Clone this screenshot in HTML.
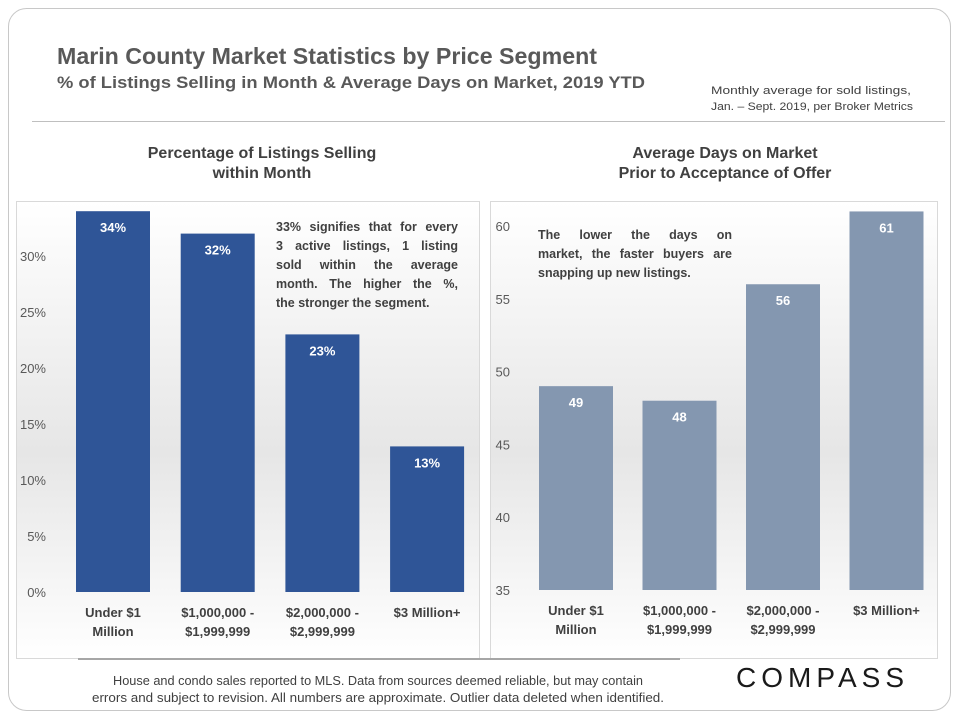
<!DOCTYPE html>
<html><head><meta charset="utf-8"><style>
body{margin:0;background:#fff;width:960px;height:720px;overflow:hidden;font-family:"Liberation Sans",sans-serif;position:relative}
.ann{position:absolute;font-size:12.5px;font-weight:bold;color:#404040;line-height:19px;text-align:justify;text-align-last:left}
.ann span{display:block;text-align:justify;text-align-last:justify}
.ann span.last{text-align-last:left}
</style></head><body>
<svg width="960" height="720" xmlns="http://www.w3.org/2000/svg" font-family="Liberation Sans, sans-serif" style="position:absolute;left:0;top:0">
<defs>
<linearGradient id="bg" x1="0" y1="0" x2="0" y2="1"><stop offset="0" stop-color="#fff"/><stop offset="0.55" stop-color="#e6e6e6"/><stop offset="1" stop-color="#fff"/></linearGradient>
</defs>
<rect x="8.5" y="8.5" width="942" height="702" rx="18" fill="#fff" stroke="#c8c8c8"/>
<text x="57" y="64" font-size="23" font-weight="bold" fill="#595959" textLength="540" lengthAdjust="spacingAndGlyphs">Marin County Market Statistics by Price Segment</text>
<text x="57" y="88" font-size="17" font-weight="bold" fill="#595959" textLength="588" lengthAdjust="spacingAndGlyphs">% of Listings Selling in Month &amp; Average Days on Market, 2019 YTD</text>
<text x="711" y="94" font-size="11" fill="#404040" textLength="200" lengthAdjust="spacingAndGlyphs">Monthly average for sold listings,</text>
<text x="711" y="110" font-size="11" fill="#404040" textLength="202" lengthAdjust="spacingAndGlyphs">Jan. – Sept. 2019, per Broker Metrics</text>
<line x1="32" y1="121.5" x2="945" y2="121.5" stroke="#bfbfbf"/>
<text x="262" y="158" font-size="16" font-weight="bold" fill="#404040" text-anchor="middle">Percentage of Listings Selling</text>
<text x="262" y="178" font-size="16" font-weight="bold" fill="#404040" text-anchor="middle">within Month</text>
<text x="725" y="158" font-size="16" font-weight="bold" fill="#404040" text-anchor="middle">Average Days on Market</text>
<text x="725" y="178" font-size="16" font-weight="bold" fill="#404040" text-anchor="middle">Prior to Acceptance of Offer</text>
<rect x="16.5" y="201.5" width="463" height="457" fill="url(#bg)" stroke="#d9d9d9"/>
<rect x="490.5" y="201.5" width="447" height="457" fill="url(#bg)" stroke="#d9d9d9"/>
<g id="left"></g>
<g id="right"></g>
<line x1="78" y1="659" x2="680" y2="659" stroke="#a6a6a6" stroke-width="2"/>
<text x="378" y="685" font-size="12.5" fill="#404040" text-anchor="middle" textLength="530" lengthAdjust="spacingAndGlyphs">House and condo sales reported to MLS. Data from sources deemed reliable, but may contain</text>
<text x="378" y="702" font-size="12.5" fill="#404040" text-anchor="middle" textLength="572" lengthAdjust="spacingAndGlyphs">errors and subject to revision. All numbers are approximate. Outlier data deleted when identified.</text>
<text x="822" y="687" font-size="28" fill="#1a1a1a" text-anchor="middle" letter-spacing="4" textLength="172">COMPASS</text>
</svg>
<div class="ann" style="left:276px;top:218px;width:182px">
<span>33% signifies that for every</span><span>3 active listings, 1 listing</span><span>sold within the average</span><span>month. The higher the %,</span><span class="last">the stronger the segment.</span></div>
<div class="ann" style="left:538px;top:226px;width:194px">
<span>The lower the days on</span><span>market, the faster buyers are</span><span class="last">snapping up new listings.</span></div>
<script>
const categories=["Under $1|Million","$1,000,000 -|$1,999,999","$2,000,000 -|$2,999,999","$3 Million+"];
const pctValues=[34,32,23,13];
const pctTicks=[0,5,10,15,20,25,30];
const domValues=[49,48,56,61];
const domTicks=[35,40,45,50,55,60];
const NS="http://www.w3.org/2000/svg";
function mk(p,t,a){const e=document.createElementNS(NS,t);for(const k in a)e.setAttribute(k,a[k]);p.appendChild(e);return e;}
function draw(g,vals,ticks,o){
 const y=v=>o.y0-(v-o.min)*o.pxPer;
 ticks.forEach(t=>{const e=mk(g,'text',{x:o.tickX,y:y(t)+5,'font-size':13,fill:'#595959','text-anchor':'end'});
  
  
  e.textContent=t+o.suffix;});
 vals.forEach((v,i)=>{const x=o.x0+i*o.step;
  const r=mk(g,'rect',{x:x,y:y(v),width:o.bw,height:o.y0-y(v),fill:o.color});
  
  
  const l=mk(g,'text',{x:x+o.bw/2,y:y(v)+21,'font-size':13,'font-weight':'bold',fill:'#fff','text-anchor':'middle'});
  
  
  l.textContent=v+o.suffix;
  categories[i].split('|').forEach((s,j)=>{const c=mk(g,'text',{x:x+o.bw/2,y:o.y0+25+j*19,'font-size':13,'font-weight':'bold',fill:'#404040','text-anchor':'middle'});
   
   
   c.textContent=s;});
 });
}
draw(document.getElementById('left'),pctValues,pctTicks,{y0:592,min:0,pxPer:11.2,tickX:46,suffix:'%',x0:76,step:104.7,bw:74,color:'#2f5597'});
draw(document.getElementById('right'),domValues,domTicks,{y0:590,min:35,pxPer:14.56,tickX:510,suffix:'',x0:539,step:103.5,bw:74,color:'#8497b0'});
</script>
</body></html>
